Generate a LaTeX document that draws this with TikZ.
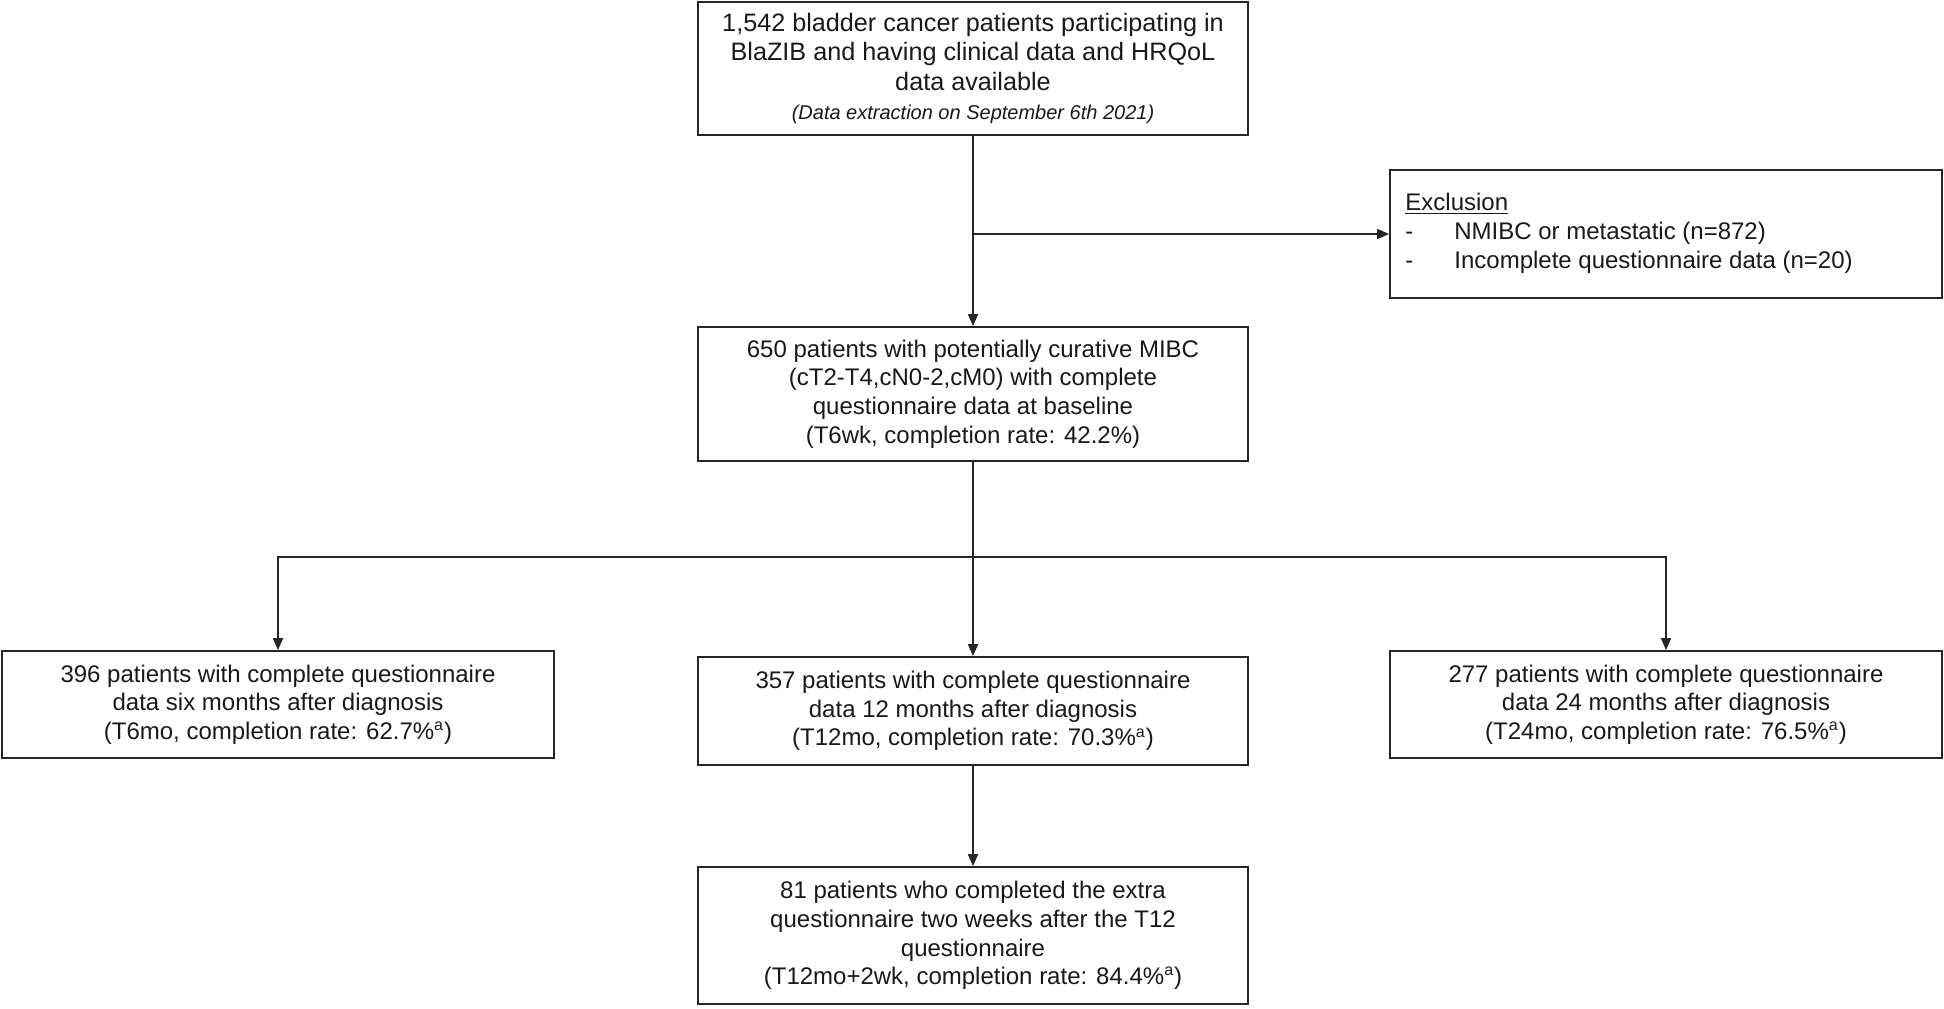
\documentclass[tikz,border=0pt]{standalone}
\usepackage{fontspec}
\setmainfont{Liberation Sans}
\usetikzlibrary{arrows.meta,calc}
\begin{document}
\begin{tikzpicture}[x=0.5pt,y=-0.5pt,
  box/.style={draw=black!85,line width=0.9pt,align=center,inner sep=0pt,
    font=\fontsize{12}{14.3}\selectfont,text=black!90},
  arr/.style={draw=black!85,line width=0.9pt,-{Triangle[length=6pt,width=5pt]}},
  ln/.style={draw=black!85,line width=0.9pt}]
\useasboundingbox[fill=white] (0,0) rectangle (1944,1008);
\node[box,minimum width=275pt,minimum height=66.5pt,font=\fontsize{12.6}{14.8}\selectfont] (top) at (973,68.5)
  {1,542 bladder cancer patients participating in\\
   BlaZIB and having clinical data and HRQoL\\
   data available\\
   {\fontsize{10}{12}\selectfont\itshape (Data extraction on September 6th 2021)}};
\node[box,minimum width=276pt,minimum height=64pt] (excl) at (1666,234) {};
\node[anchor=west,align=left,inner sep=0pt,font=\fontsize{12}{14.6}\selectfont,text=black!90]
  (excltext) at (1405,233)
  {\underline{Exclusion}\\
   \makebox[24.5pt][l]{-}NMIBC or metastatic (n=872)\\
   \makebox[24.5pt][l]{-}Incomplete questionnaire data (n=20)};
\node[box,minimum width=275pt,minimum height=67pt] (base) at (973,394)
  {650 patients with potentially curative MIBC\\
   (cT2-T4,cN0-2,cM0) with complete\\
   questionnaire data at baseline\\
   (T6wk, completion rate: 42.2\%)};
\node[box,minimum width=276pt,minimum height=53.5pt] (six) at (278,704.5)
  {396 patients with complete questionnaire\\
   data six months after diagnosis\\
   (T6mo, completion rate: 62.7\%\textsuperscript{a})};
\node[box,minimum width=275pt,minimum height=54pt] (twelve) at (973,711)
  {357 patients with complete questionnaire\\
   data 12 months after diagnosis\\
   (T12mo, completion rate: 70.3\%\textsuperscript{a})};
\node[box,minimum width=276pt,minimum height=53.5pt] (tf) at (1666,704.5)
  {277 patients with complete questionnaire\\
   data 24 months after diagnosis\\
   (T24mo, completion rate: 76.5\%\textsuperscript{a})};
\node[box,minimum width=275pt,minimum height=68.5pt] (extra) at (973,935.5)
  {81 patients who completed the extra\\
   questionnaire two weeks after the T12\\
   questionnaire\\
   (T12mo+2wk, completion rate: 84.4\%\textsuperscript{a})};
\coordinate (ex) at (top.south |- excl.west);
\coordinate (split) at (973,557);
\draw[arr] (top.south) -- (base.north);
\draw[arr] (ex) -- (excl.west);
\draw[ln] (base.south) -- (split);
\draw[arr] (split) -| (six.north);
\draw[arr] (split) -| (tf.north);
\draw[arr] (split) -- (twelve.north);
\draw[arr] (twelve.south) -- (extra.north);
\end{tikzpicture}
\end{document}
